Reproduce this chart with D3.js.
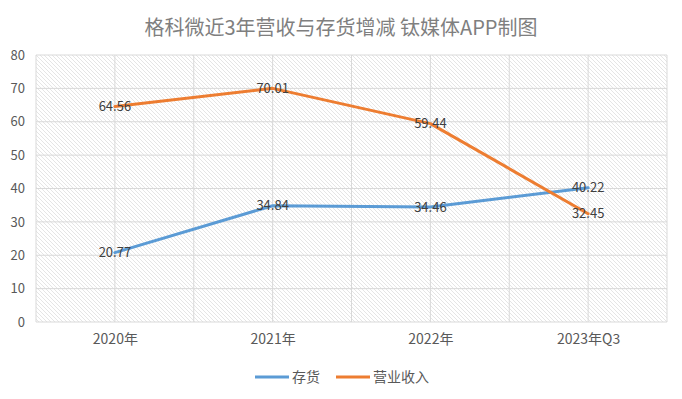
<!DOCTYPE html>
<html>
<head>
<meta charset="utf-8">
<script src="https://cdn.jsdelivr.net/npm/d3@7"></script>
<style>
  body { margin: 0; background: #fff; }
  svg text { font-family: "Noto Sans CJK SC", "Noto Sans", sans-serif; }
</style>
</head>
<body>
<svg id="chart"></svg>
<script>
// data
const categories = ['2020年', '2021年', '2022年', '2023年Q3'];
const inventory = [20.77, 34.84, 34.46, 40.22];   // 存货
const revenue = [64.56, 70.01, 59.44, 32.45];     // 营业收入
const yTicks = [0, 10, 20, 30, 40, 50, 60, 70, 80];
const seriesNames = ['存货', '营业收入'];
const title = '格科微近3年营收与存货增减 钛媒体APP制图';

const W = 682, H = 399;
const margin = { top: 55, right: 15, bottom: 77, left: 36 };
const width = W - margin.left - margin.right;
const height = H - margin.top - margin.bottom;
const colors = ['#5B9BD5', '#ED7D31'];

const svg = d3.select('#chart').attr('width', W).attr('height', H);

// hatch fill for plot area
const defs = svg.append('defs');
const pat = defs.append('pattern')
    .attr('id', 'hatch')
    .attr('patternUnits', 'userSpaceOnUse')
    .attr('width', 4).attr('height', 4);
pat.append('rect').attr('width', 4).attr('height', 4).attr('fill', '#fff');
pat.append('path')
    .attr('d', 'M-1,-1 L5,5 M-1,3 L1,5 M3,-1 L5,1')
    .attr('stroke', '#dedede')
    .attr('stroke-width', 0.8);

svg.append('text')
    .attr('x', W / 2).attr('y', 35)
    .attr('text-anchor', 'middle')
    .attr('font-size', 20)
    .attr('fill', '#7f7f7f')
    .text(title);

const g = svg.append('g')
    .attr('transform', 'translate(' + margin.left + ',' + margin.top + ')');

const x = d3.scalePoint()
    .domain(categories)
    .range([0, width])
    .padding(0.5);
const step = x.step();

const y = d3.scaleLinear()
    .domain([0, 80])
    .range([height, 0]);

g.append('rect')
    .attr('width', width).attr('height', height)
    .attr('fill', 'url(#hatch)');

// horizontal gridlines
g.append('g')
    .selectAll('line')
    .data(yTicks)
    .enter()
    .append('line')
    .attr('x1', 0).attr('x2', width)
    .attr('y1', d => y(d)).attr('y2', d => y(d))
    .attr('stroke', '#d9d9d9')
    .attr('stroke-width', 1);

// vertical gridlines: category centres and boundaries
const vLines = [];
categories.forEach(c => { vLines.push(x(c) - step / 2, x(c)); });
vLines.push(width);
g.append('g')
    .selectAll('line')
    .data(vLines)
    .enter()
    .append('line')
    .attr('x1', d => d).attr('x2', d => d)
    .attr('y1', 0).attr('y2', height)
    .attr('stroke', '#d9d9d9')
    .attr('stroke-width', 1);

// y axis labels
const yAxis = g.append('g')
    .call(d3.axisLeft(y).tickValues(yTicks).tickSize(0).tickPadding(11));
yAxis.select('.domain').remove();
yAxis.selectAll('text')
    .attr('font-size', 13)
    .attr('fill', '#595959')
    .style('font-family', '"Noto Sans CJK SC", sans-serif');

// x axis labels
const xAxis = g.append('g')
    .attr('transform', 'translate(0,' + height + ')')
    .call(d3.axisBottom(x).tickSize(0).tickPadding(12));
xAxis.select('.domain').remove();
xAxis.selectAll('text')
    .attr('font-size', 14)
    .attr('fill', '#595959')
    .style('font-family', '"Noto Sans CJK SC", sans-serif');

// lines
const series = [inventory, revenue];
const line = d3.line()
    .x((d, i) => x(categories[i]))
    .y(d => y(d));

series.forEach((s, k) => {
  g.append('path')
      .datum(s)
      .attr('d', line)
      .attr('fill', 'none')
      .attr('stroke', colors[k])
      .attr('stroke-width', 3)
      .attr('stroke-linejoin', 'round')
      .attr('stroke-linecap', 'round');
});

// data labels
series.forEach((s, k) => {
  g.append('g')
      .selectAll('text')
      .data(s)
      .enter()
      .append('text')
      .attr('x', (d, i) => x(categories[i]))
      .attr('y', d => y(d))
      .attr('dy', '0.35em')
      .attr('text-anchor', 'middle')
      .attr('font-size', 13)
      .attr('fill', '#404040')
      .text(d => d.toFixed(2));
});

// legend
const legend = svg.append('g').attr('transform', 'translate(255,377)');
const legendX = [0, 81];
seriesNames.forEach((name, k) => {
  const item = legend.append('g').attr('transform', 'translate(' + legendX[k] + ',0)');
  item.append('line')
      .attr('x1', 0).attr('x2', 34)
      .attr('stroke', colors[k])
      .attr('stroke-width', 3);
  item.append('text')
      .attr('x', 37).attr('dy', '0.35em')
      .attr('font-size', 14)
      .attr('fill', '#595959')
      .text(name);
});
</script>
</body>
</html>
